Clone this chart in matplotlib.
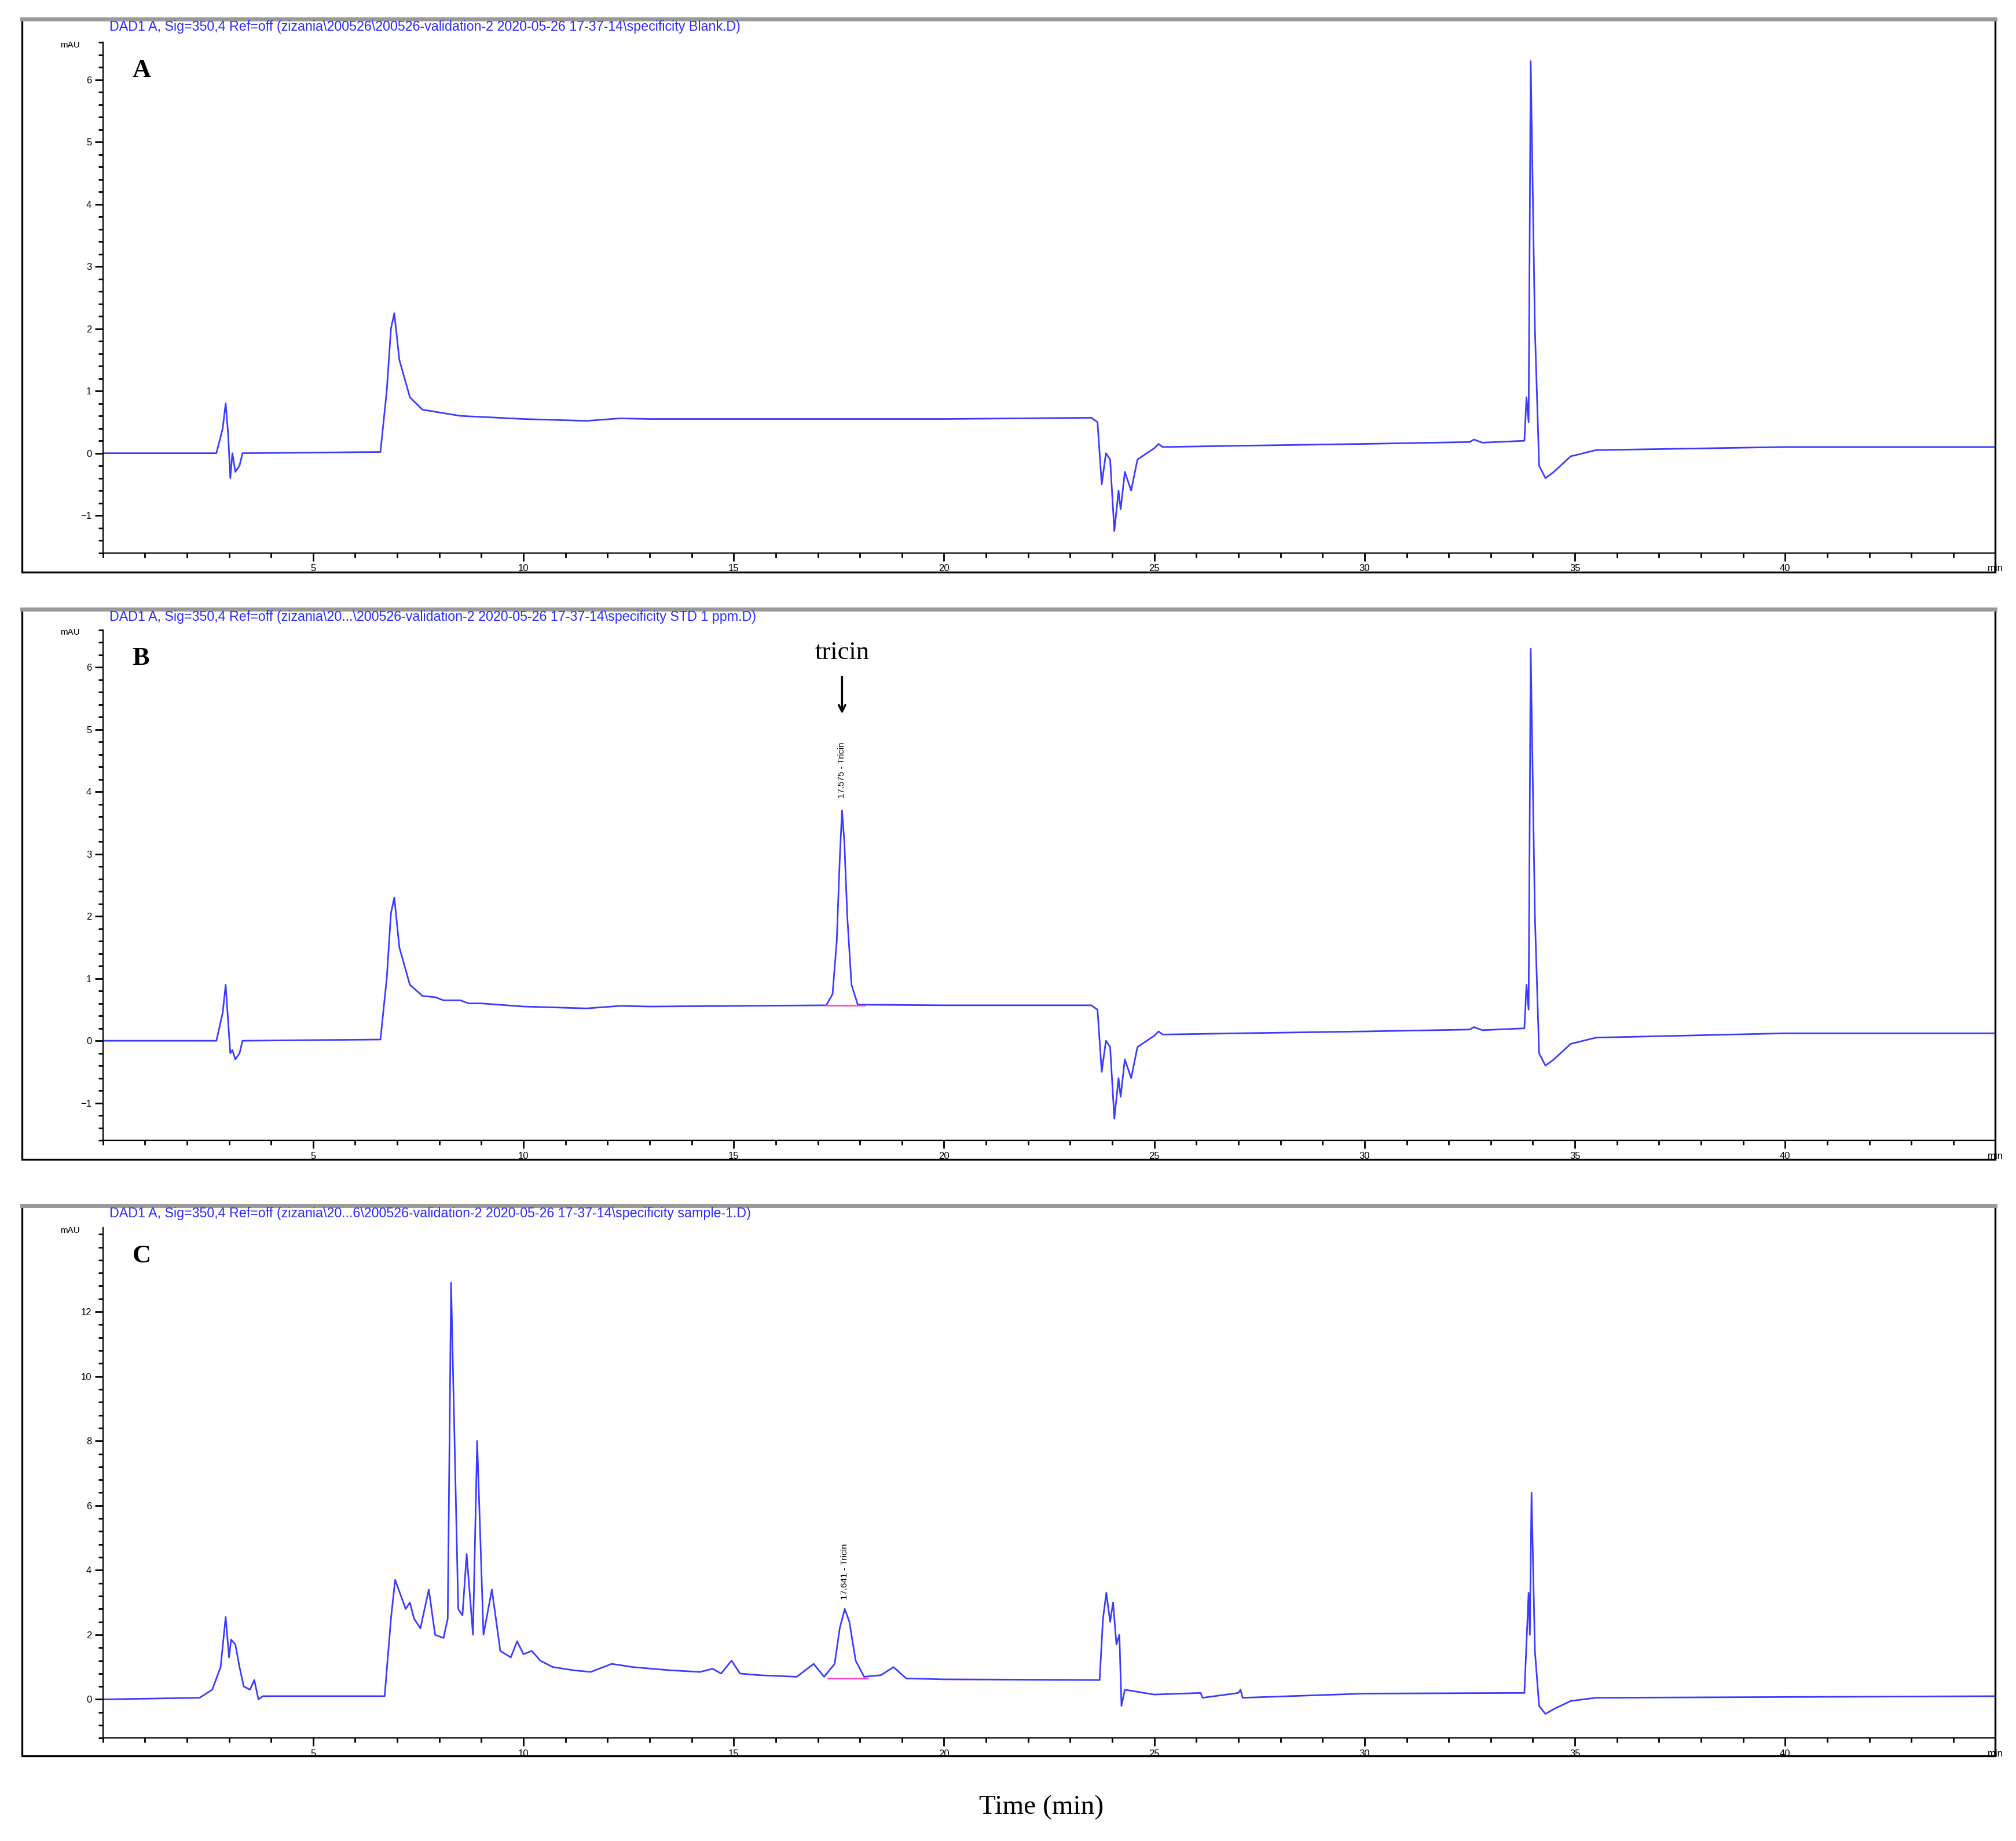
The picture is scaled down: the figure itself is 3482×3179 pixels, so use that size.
import matplotlib.pyplot as plt
import numpy as np
from matplotlib.patches import Rectangle
from matplotlib.ticker import MultipleLocator

# Cromatogramas leidos a ojo de la figura (tiempo en min, señal en mAU)
t_a = [0, 2.7, 2.85, 2.92, 2.98, 3.03, 3.08, 3.15, 3.25, 3.32, 6.6, 6.75, 6.85, 6.93, 7.05, 7.3, 7.6, 8.5, 10, 11.5,
       12.3, 13, 20, 23.5, 23.65, 23.75, 23.85, 23.95, 24.05, 24.15, 24.2, 24.3, 24.45, 24.6, 25, 25.1, 25.2, 27, 30,
       32.5, 32.6, 32.8, 33.8, 33.85, 33.9, 33.95, 34.05, 34.15, 34.3, 34.5, 34.9, 35.5, 40, 45]
y_a = [0, 0.0, 0.4, 0.8, 0.3, -0.4, 0.0, -0.3, -0.2, 0.0, 0.02, 1.0, 2.0, 2.25, 1.5, 0.9, 0.7, 0.6, 0.55, 0.52,
       0.56, 0.55, 0.55, 0.57, 0.5, -0.5, 0.0, -0.1, -1.25, -0.6, -0.9, -0.3, -0.6, -0.1, 0.08, 0.15, 0.1, 0.12, 0.15,
       0.18, 0.22, 0.17, 0.2, 0.9, 0.5, 6.3, 2.0, -0.2, -0.4, -0.3, -0.05, 0.05, 0.1, 0.1]

t_b = [0, 2.7, 2.85, 2.92, 2.98, 3.03, 3.08, 3.15, 3.25, 3.32, 6.6, 6.75, 6.85, 6.93, 7.05, 7.3, 7.6, 7.9, 8.1, 8.5,
       8.7, 9, 10, 11.5, 12.3, 13, 17.2, 17.35, 17.45, 17.52, 17.575, 17.63, 17.7, 17.8, 17.95, 20, 23.5,
       23.65, 23.75, 23.85, 23.95, 24.05, 24.15, 24.2, 24.3, 24.45, 24.6, 25, 25.1, 25.2, 27, 30, 32.5, 32.6, 32.8,
       33.8, 33.85, 33.9, 33.95, 34.05, 34.15, 34.3, 34.5, 34.9, 35.5, 40, 45]
y_b = [0, 0.0, 0.45, 0.9, 0.3, -0.2, -0.15, -0.3, -0.2, 0.0, 0.02, 1.0, 2.05, 2.3, 1.5, 0.9, 0.72, 0.7, 0.65, 0.65,
       0.6, 0.6, 0.55, 0.52, 0.56, 0.55, 0.57, 0.75, 1.6, 2.9, 3.7, 3.2, 2.0, 0.9, 0.58, 0.57, 0.57,
       0.5, -0.5, 0.0, -0.1, -1.25, -0.6, -0.9, -0.3, -0.6, -0.1, 0.08, 0.15, 0.1, 0.12, 0.15, 0.18, 0.22, 0.17,
       0.2, 0.9, 0.5, 6.3, 2.0, -0.2, -0.4, -0.3, -0.05, 0.05, 0.12, 0.12]

t_c = [0, 2.3, 2.6, 2.8, 2.92, 3.0, 3.05, 3.15, 3.25, 3.35, 3.5, 3.6, 3.7, 3.8, 6.7, 6.85, 6.95, 7.2, 7.3, 7.4, 7.55,
       7.75, 7.9, 8.1, 8.2, 8.28, 8.45, 8.55, 8.65, 8.8, 8.9, 9.05, 9.25, 9.45, 9.7, 9.85, 10.0, 10.2, 10.4, 10.7,
       11.2, 11.6, 12.1, 12.6, 13.5, 14.2, 14.5, 14.7, 14.95, 15.15, 15.6, 16.5, 16.9, 17.15, 17.4, 17.52, 17.64,
       17.75, 17.9, 18.1, 18.5, 18.8, 19.1, 20, 23.7, 23.78, 23.86, 23.95, 24.02, 24.1, 24.17, 24.22, 24.3, 25, 26.1,
       26.15, 27, 27.05, 27.1, 30, 33.8, 33.9, 33.93, 33.97, 34.05, 34.15, 34.3, 34.5, 34.9, 35.5, 45]
y_c = [0, 0.05, 0.3, 1.0, 2.55, 1.3, 1.85, 1.7, 1.0, 0.4, 0.3, 0.6, 0.0, 0.1, 0.1, 2.5, 3.7, 2.8, 3.0, 2.5, 2.2,
       3.4, 2.0, 1.9, 2.5, 12.9, 2.8, 2.6, 4.5, 2.0, 8.0, 2.0, 3.4, 1.5, 1.3, 1.8, 1.4, 1.5, 1.2, 1.0,
       0.9, 0.85, 1.1, 1.0, 0.9, 0.85, 0.95, 0.8, 1.2, 0.8, 0.75, 0.7, 1.1, 0.7, 1.1, 2.2, 2.8,
       2.4, 1.2, 0.7, 0.75, 1.0, 0.65, 0.62, 0.6, 2.5, 3.3, 2.4, 3.0, 1.7, 2.0, -0.2, 0.3, 0.15, 0.2,
       0.05, 0.2, 0.3, 0.05, 0.18, 0.2, 3.3, 2.0, 6.4, 1.5, -0.2, -0.45, -0.3, -0.05, 0.05, 0.1]

W, H = 1568.0, 1432.0
AZUL = '#3b3bff'

fig = plt.figure(figsize=(17.41, 15.895), dpi=200)


def fx(px):
    return px / W


def fy(py):
    return 1 - py / H


def panel(box_top, box_bot, ax_top, ax_bot, t, y, ylim, yticks, yminor, letra, cabecera, pico=None):
    fig.patches.append(Rectangle((fx(17), fy(box_bot)), fx(1552) - fx(17), fy(box_top) - fy(box_bot),
                                 transform=fig.transFigure, fill=False, edgecolor='black', lw=1.2))
    fig.add_artist(plt.Line2D([fx(17), fx(1552)], [fy(box_top), fy(box_top)], transform=fig.transFigure,
                              color='#999999', lw=2.5))
    ax = fig.add_axes([fx(80), fy(ax_bot), fx(1552) - fx(80), fy(ax_top) - fy(ax_bot)])
    ax.plot(t, y, color=AZUL, lw=1.0)
    ax.set_xlim(0, 45)
    ax.set_ylim(*ylim)
    for s in ['top', 'right']:
        ax.spines[s].set_visible(False)
    ax.xaxis.set_minor_locator(MultipleLocator(1))
    ax.set_yticks(yticks)
    ax.yaxis.set_minor_locator(MultipleLocator(yminor))
    ax.tick_params(which='major', length=5, width=1, labelsize=6, pad=2)
    ax.tick_params(which='minor', length=3, width=1)
    ax.set_xticks([5, 10, 15, 20, 25, 30, 35, 40, 45])
    ax.set_xticklabels(['5', '10', '15', '20', '25', '30', '35', '40', 'min'])
    for lab in ax.get_xticklabels() + ax.get_yticklabels():
        lab.set_family('Liberation Sans')
    fig.text(fx(62), fy(ax_top + 2), 'mAU', fontsize=5.5, family='Liberation Sans', ha='right', va='center')
    fig.text(fx(85), fy(box_top + 6), cabecera, fontsize=8.4, color='#2a2aff', family='Liberation Sans',
             ha='left', va='center')
    fig.text(fx(103), fy(ax_top + 22), letra, fontsize=16, weight='bold', family='Liberation Serif',
             ha='left', va='center')
    if pico is not None:
        tp, base, etiqueta, ylab = pico
        ax.plot([tp - 0.4, tp + 0.55], [base, base], color='#ff44cc', lw=1.0)
        ax.text(tp, ylab, etiqueta, rotation=90, fontsize=5.5, family='Liberation Sans', ha='center', va='bottom')
    return ax


panel(15, 445, 33, 430, t_a, y_a, (-1.6, 6.6), list(range(-1, 7)), 0.2, 'A',
      'DAD1 A, Sig=350,4 Ref=off (zizania\\200526\\200526-validation-2 2020-05-26 17-37-14\\specificity Blank.D)')
axb = panel(474, 902, 490, 887, t_b, y_b, (-1.6, 6.6), list(range(-1, 7)), 0.2, 'B',
            'DAD1 A, Sig=350,4 Ref=off (zizania\\20...\\200526-validation-2 2020-05-26 17-37-14\\specificity STD 1 ppm.D)',
            (17.575, 0.57, '17.575 - Tricin', 3.9))
panel(938, 1366, 955, 1352, t_c, y_c, (-1.2, 14.6), list(range(0, 13, 2)), 0.4, 'C',
      'DAD1 A, Sig=350,4 Ref=off (zizania\\20...6\\200526-validation-2 2020-05-26 17-37-14\\specificity sample-1.D)',
      (17.641, 0.65, '17.641 - Tricin', 3.1))

axb.annotate('', xy=(17.575, 5.2), xytext=(17.575, 5.9),
             arrowprops=dict(arrowstyle='->', color='black', lw=1.3))
axb.text(17.575, 6.05, 'tricin', fontsize=16, family='Liberation Serif', ha='center', va='bottom')

fig.text(fx(810), fy(1406), 'Time (min)', fontsize=17, family='Liberation Serif', ha='center', va='center')

fig.savefig('out.png', dpi=200)
